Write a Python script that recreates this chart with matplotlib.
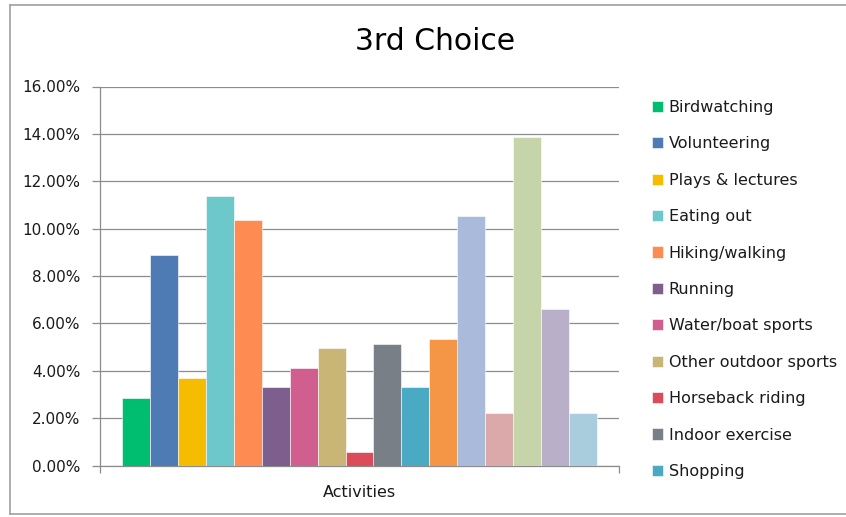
import matplotlib
matplotlib.use("Agg")
import matplotlib.pyplot as plt
from matplotlib.lines import Line2D

# legend only shows the first 11 series (the rest is cut off in the original)
legend_names = ["Birdwatching", "Volunteering", "Plays & lectures", "Eating out",
                "Hiking/walking", "Running", "Water/boat sports",
                "Other outdoor sports", "Horseback riding", "Indoor exercise",
                "Shopping"]
values = [2.86, 8.90, 3.68, 11.38, 10.35, 3.30, 4.13, 4.95, 0.57, 5.14, 3.30,
          5.33, 10.55, 2.23, 13.87, 6.62, 2.23]
colors = ["#00BE70", "#4F7BB4", "#F6BC00", "#6DC8CC", "#FE8B51", "#7D5E8D",
          "#D05E8E", "#C9B677", "#DB4C5A", "#787F86", "#4BAAC3", "#F59647",
          "#AABADA", "#DBA9A9", "#C5D5A9", "#B9AFC9", "#A9CDDD"]
yticks = [0, 2, 4, 6, 8, 10, 12, 14, 16]
category = "Activities"

W, H = 846, 517
fig = plt.figure(figsize=(W / 100, H / 100), dpi=100)
ax = fig.add_axes([100 / W, 1 - 465.5 / H, 519 / W, 379 / H])

n = len(values)
w = 1.0 / n
handles = []
for i, v in enumerate(values):
    lab = legend_names[i] if i < len(legend_names) else "_nolegend_"
    b = ax.bar(-0.5 + (i + 0.5) * w, v, width=w, color=colors[i],
               edgecolor="white", linewidth=0.4, label=lab, zorder=3)
    if i < len(legend_names):
        handles.append(b)

gap = 0.0455
ax.set_xlim(-0.5 - gap, 0.5 + gap)
ax.set_ylim(0, 16)
ax.set_yticks(yticks)
ax.set_yticklabels([f"{t:.2f}%" for t in yticks])
ax.yaxis.grid(True, color="#8c8c8c", linewidth=0.9, zorder=0)
ax.set_axisbelow(True)

grey = "#8c8c8c"
txt = "#1a1a1a"
for s in ["top", "right"]:
    ax.spines[s].set_visible(False)
for s in ["left", "bottom"]:
    ax.spines[s].set_color(grey)
    ax.spines[s].set_linewidth(0.9)

ax.set_xticks([-0.5 - gap, 0.5 + gap])
ax.set_xticklabels(["", ""])
ax.tick_params(axis="x", which="major", length=5, color=grey, width=0.9)
ax.set_xticks([0], minor=True)
ax.set_xticklabels([category], minor=True)
ax.tick_params(axis="x", which="minor", length=0, pad=14, labelsize=11.5,
               labelcolor=txt)
ax.tick_params(axis="y", length=6, color=grey, width=0.9, labelsize=11,
               pad=8, labelcolor=txt)

fig.text(435.5 / W, 1 - 42 / H, "3rd Choice", ha="center", va="center",
         fontsize=21.5, color="black")

fig.legend(handles=handles, loc="upper left",
           bbox_to_anchor=(652 / W, 1 - 100 / H), frameon=False,
           fontsize=11.5, borderpad=0, borderaxespad=0, labelspacing=1.34,
           handlelength=0.7, handleheight=0.7, handletextpad=0.35,
           labelcolor=txt)

# chart frame (top, left, bottom)
border = "#a0a0a0"
fig.add_artist(Line2D([10 / W, 1], [1 - 5 / H, 1 - 5 / H], color=border, lw=1.2))
fig.add_artist(Line2D([10 / W, 10 / W], [1 - 5 / H, 1 - 514 / H], color=border, lw=1.2))
fig.add_artist(Line2D([10 / W, 1], [1 - 514 / H, 1 - 514 / H], color=border, lw=1.2))

fig.savefig("out.png", dpi=100)
